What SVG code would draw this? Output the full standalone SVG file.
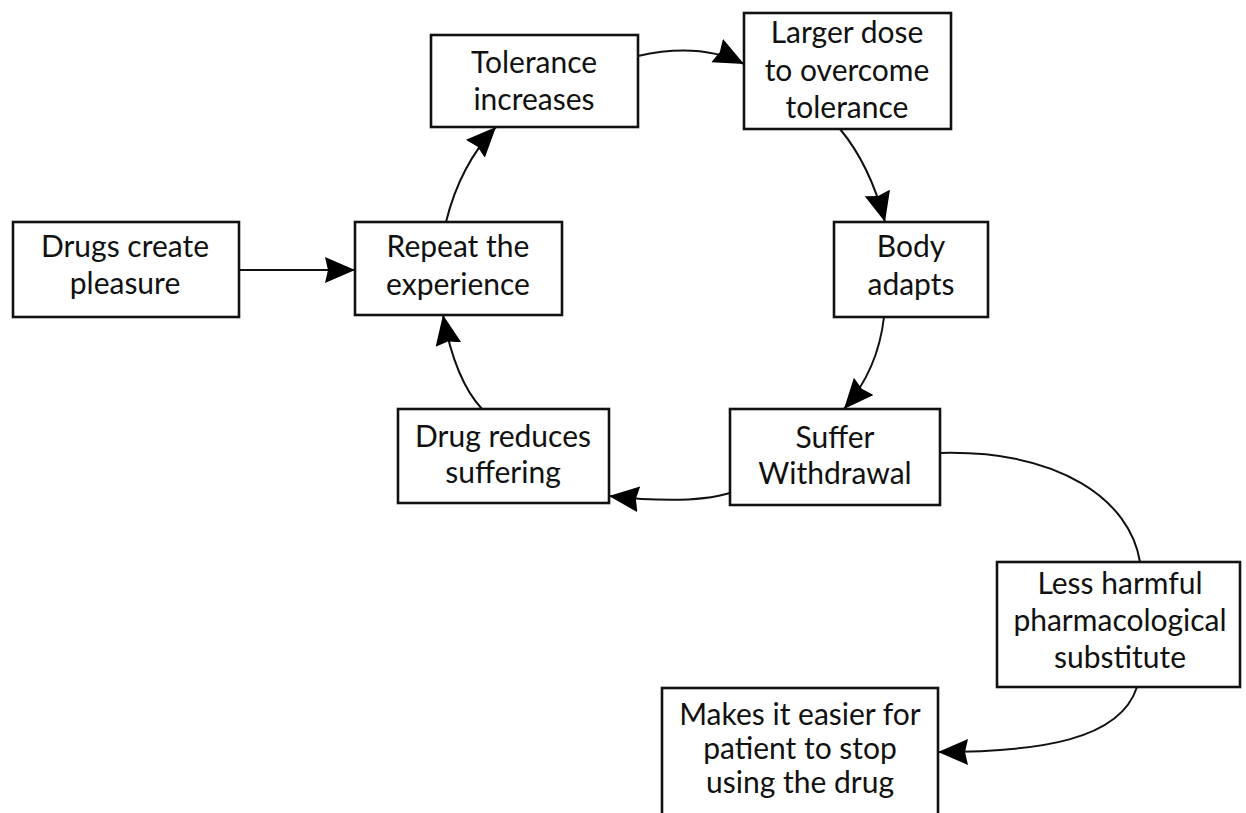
<svg xmlns="http://www.w3.org/2000/svg" width="1246" height="813" viewBox="0 0 1246 813">
<defs>
<marker id="ah" markerUnits="userSpaceOnUse" markerWidth="34" markerHeight="28" refX="30" refY="13" orient="auto">
<path d="M0,0 L30,13 L0,26 L3,13 Z" fill="#000"/>
</marker>
<style>
.box{fill:#fff;stroke:#111;stroke-width:2.6}
.t{font-family:Lato,"Noto Sans",sans-serif;font-size:30px;fill:#111;text-anchor:middle}
.c{fill:none;stroke:#111;stroke-width:2}
.ca{fill:none;stroke:#111;stroke-width:2;marker-end:url(#ah)}
</style>
</defs>
<rect width="1246" height="813" fill="#fff"/>
<g id="connectors">
<path class="ca" d="M239,270 L355,270"/>
<path class="ca" d="M446,222 Q460,165 496,127"/>
<path class="ca" d="M638,56 Q700,42 744,64"/>
<path class="ca" d="M840,129 Q870,165 885,222"/>
<path class="ca" d="M884,317 Q878,370 844,409"/>
<path class="ca" d="M730,493 Q690,505 609,496"/>
<path class="ca" d="M482,409 Q455,380 443,315"/>
<path class="c" d="M940,453 C1060,450 1130,500 1140,562"/>
<path class="ca" d="M1137,687 C1120,740 1040,752 938,752"/>
</g>
<g id="n1"><rect class="box" x="13" y="222" width="226" height="95"/><text class="t" x="125" y="257">Drugs create</text><text class="t" x="125" y="294">pleasure</text></g>
<g id="n2"><rect class="box" x="355" y="222" width="207" height="93"/><text class="t" x="458" y="257">Repeat the</text><text class="t" x="458" y="295">experience</text></g>
<g id="n3"><rect class="box" x="431" y="35" width="207" height="92"/><text class="t" x="534" y="73">Tolerance</text><text class="t" x="534" y="110">increases</text></g>
<g id="n4"><rect class="box" x="744" y="13" width="207" height="116"/><text class="t" x="847" y="43">Larger dose</text><text class="t" x="847" y="81">to overcome</text><text class="t" x="847" y="118">tolerance</text></g>
<g id="n5"><rect class="box" x="834" y="222" width="154" height="95"/><text class="t" x="911" y="257">Body</text><text class="t" x="911" y="295">adapts</text></g>
<g id="n6"><rect class="box" x="730" y="409" width="210" height="96"/><text class="t" x="835" y="448">Suffer</text><text class="t" x="835" y="484">Withdrawal</text></g>
<g id="n7"><rect class="box" x="398" y="409" width="211" height="94"/><text class="t" x="503" y="447">Drug reduces</text><text class="t" x="503" y="483">suffering</text></g>
<g id="n8"><rect class="box" x="997" y="562" width="243" height="125"/><text class="t" x="1120" y="594">Less harmful</text><text class="t" x="1120" y="631">pharmacological</text><text class="t" x="1120" y="668">substitute</text></g>
<g id="n9"><rect class="box" x="662" y="688" width="276" height="140"/><text class="t" x="800" y="725">Makes it easier for</text><text class="t" x="800" y="759">patient to stop</text><text class="t" x="800" y="793">using the drug</text></g>
</svg>
